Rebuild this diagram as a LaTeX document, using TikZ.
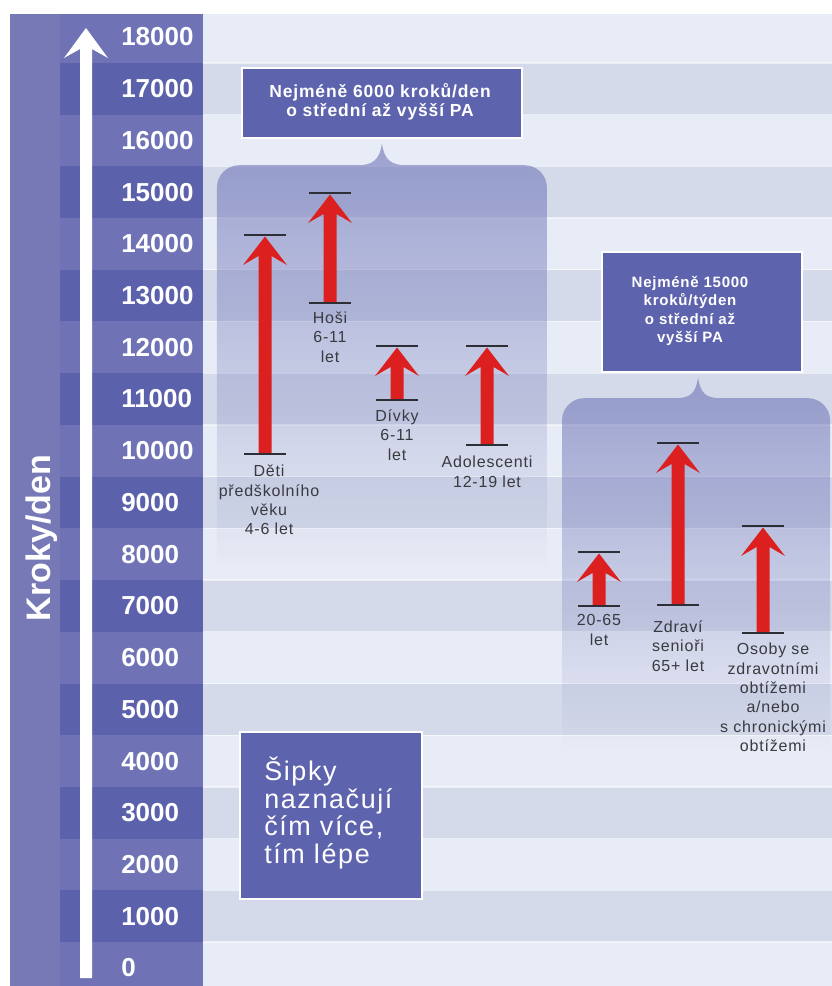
\documentclass[tikz,border=0pt]{standalone}
\usepackage{fontspec}
\setmainfont{Liberation Sans}
\newfontfamily\spaced[LetterSpace=5]{Liberation Sans}
\newfontfamily\spacedw[LetterSpace=6]{Liberation Sans}
\usetikzlibrary{fadings}
\definecolor{stripeL}{HTML}{E8ECF6}
\definecolor{stripeD}{HTML}{D4DAE9}
\definecolor{colbase}{HTML}{7679B6}
\definecolor{colL}{HTML}{6F73B5}
\definecolor{colD}{HTML}{5C61AB}
\definecolor{boxfill}{HTML}{5E63AD}
\definecolor{brackc}{HTML}{6A70B6}
\definecolor{arrred}{HTML}{DC1F1F}
\definecolor{tickc}{HTML}{2E2E36}
\definecolor{lbltxt}{HTML}{3A3A40}
\tikzfading[name=fadedown, top color=transparent!0, bottom color=transparent!100]
\tikzset{
 numlbl/.style={anchor=west, inner sep=0, text=white, font=\fontsize{19.5}{20}\selectfont\bfseries},
 boxshape/.style={draw=white, line width=1.8pt, fill=boxfill, inner sep=0},
 boxtxt/.style={text=white, align=center, inner sep=0},
 grplbl/.style={text=lbltxt, align=center, inner sep=0, font=\spaced\fontsize{12}{14.6}\selectfont},
 ticklin/.style={draw=tickc, line width=1.1pt},
 bracket/.style={fill=brackc, fill opacity=0.6, path fading=fadedown},
}
\newcommand\redarr[3]{%
 \fill[arrred] (#1-6.5,#3) -- (#1-6.5,#2+21) -- (#1-22,#2+30) -- (#1,#2+1.5) -- (#1+22,#2+30) -- (#1+6.5,#2+21) -- (#1+6.5,#3) -- cycle;
 \draw[ticklin] (#1-21,#2) -- (#1+21,#2);
 \draw[ticklin] (#1-21,#3) -- (#1+21,#3);
}
\begin{document}
\begin{tikzpicture}[x=0.75pt,y=-0.75pt]
\useasboundingbox (0,0) rectangle (832,986);
\fill[white] (0,0) rectangle (832,986);
% left column base
\fill[colbase] (10,14) rectangle (203,986);
% stripes
\foreach \i in {0,...,18}{
  \pgfmathsetmacro\ya{max(14,11.14+51.72*\i)}
  \pgfmathsetmacro\yb{min(986,11.14+51.72*(\i+1))}
  \pgfmathtruncatemacro\odd{mod(\i,2)}
  \ifnum\odd=1
    \fill[stripeD] (203,\ya) rectangle (832,\yb);
    \fill[colD] (60,\ya) rectangle (203,\yb);
  \else
    \fill[stripeL] (203,\ya) rectangle (832,\yb);
    \fill[colL] (60,\ya) rectangle (203,\yb);
  \fi
  \ifnum\i>0
    \draw[white, opacity=0.55, line width=1pt] (203,\ya) -- (832,\ya);
  \fi
}
% axis arrow
\fill[white] (80,978) -- (80,49) -- (64,58) -- (86,28) -- (108,58) -- (92,49) -- (92,978) -- cycle;
% numbers
\foreach \i in {0,...,18}{
  \edef\v{\the\numexpr18000-1000*\i\relax}
  \node[numlbl] (n\v) at (121,37+51.72*\i) {\v};
}
\node[rotate=90, text=white, inner sep=0, font=\fontsize{25.5}{26}\selectfont\bfseries] (ylab) at (42,538) {Kroky/den};
% brackets
\path[bracket] (217,570) -- (217,187) .. controls (217,175) and (227,165) .. (239,165) -- (358,165) .. controls (372,165) and (380,160) .. (382,143) .. controls (384,160) and (392,165) .. (406,165) -- (525,165) .. controls (537,165) and (547,175) .. (547,187) -- (547,570) -- cycle;
\path[bracket] (562,750) -- (562,420) .. controls (562,408) and (572,398) .. (584,398) -- (676,398) .. controls (690,398) and (696,393) .. (698,377) .. controls (700,393) and (706,398) .. (720,398) -- (808,398) .. controls (820,398) and (830,408) .. (830,420) -- (830,750) -- cycle;
% boxes
\node[boxshape, minimum width=210pt, minimum height=52.5pt] (b1) at (382,103) {};
\node[boxtxt, font=\spaced\bfseries\fontsize{13.1}{14.25}\selectfont] (t1) at (380,102) {Nejméně 6000 kroků/den\\o střední až vyšší PA};
\node[boxshape, minimum width=150pt, minimum height=90pt] (b2) at (702,312) {};
\node[boxtxt, font=\spaced\bfseries\fontsize{11.25}{13.9}\selectfont] (t2) at (690,311) {Nejméně 15000\\kroků/týden\\o střední až\\vyšší PA};
\node[boxshape, minimum width=136.5pt, minimum height=125.25pt] (b3) at (331,815.5) {};
\node[boxtxt, align=left, anchor=west, font=\spacedw\fontsize{20.2}{20.8}\selectfont] (t3) at (264,813) {Šipky\\naznačují\\čím více,\\tím lépe};
% red arrows
\redarr{265}{235}{454}
\redarr{330}{193}{303}
\redarr{397}{346}{400}
\redarr{487}{346}{445}
\redarr{599}{552}{606}
\redarr{678}{443}{605}
\redarr{763}{526}{633}
% labels
\node[grplbl] (l1) at (269,500) {Děti\\předškolního\\věku\\4-6 let};
\node[grplbl] (l2) at (330,337) {Hoši\\6-11\\let};
\node[grplbl] (l3) at (397,435) {Dívky\\6-11\\let};
\node[grplbl] (l4) at (487,472) {Adolescenti\\12-19 let};
\node[grplbl] (l5) at (599,630) {20-65\\let};
\node[grplbl] (l6) at (678,646) {Zdraví\\senioři\\65+ let};
\node[grplbl] (l7) at (773,697.5) {Osoby se\\zdravotními\\obtížemi\\a/nebo\\s chronickými\\obtížemi};
\end{tikzpicture}
\end{document}
